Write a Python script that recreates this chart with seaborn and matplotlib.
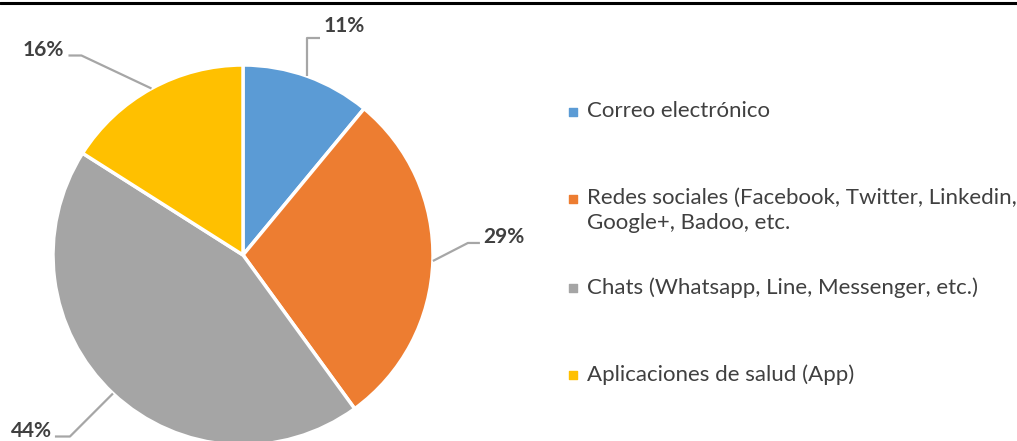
import matplotlib
matplotlib.use("Agg")
import matplotlib.pyplot as plt
from matplotlib.lines import Line2D
import numpy as np
import seaborn as sns

# Medio utilizado para comunicarse (porcentaje de respuestas)
categories = [
    "Correo electrónico",
    "Redes sociales (Facebook, Twitter, Linkedin,\nGoogle+, Badoo, etc.",
    "Chats (Whatsapp, Line, Messenger, etc.)",
    "Aplicaciones de salud (App)",
]
values = [11, 29, 44, 16]
value_labels = ["11%", "29%", "44%", "16%"]

sns.set_theme(style="white")
plt.rcParams["font.family"] = ["Lato", "DejaVu Sans"]
colors = sns.color_palette(["#5B9BD5", "#ED7D31", "#A5A5A5", "#FFC000"])
text_color = "#404040"

W, H = 1017, 441
fig = plt.figure(figsize=(W / 100, H / 100), dpi=100)
ax = fig.add_axes([0, 0, 1, 1])

center = (243, 186)
radius = 190
wedges, _ = ax.pie(
    values,
    colors=colors,
    startangle=90,
    counterclock=False,
    center=center,
    radius=radius,
    wedgeprops=dict(edgecolor="white", linewidth=2.5),
)
ax.set_xlim(0, W)
ax.set_ylim(0, H)
ax.set_aspect("equal")
ax.axis("off")

# leader line shape per label: (elbow dx, elbow dy, horizontal run, text dx, text dy)
leaders = [
    (0, 38, 13, 3, 12),
    (35, 18, 12, 3, 6),
    (-43, -43, -15, -3, 6),
    (-70, 33, -13, -5, 6),
]
for w, lab, (ex, ey, run, tx, ty) in zip(wedges, value_labels, leaders):
    mid = np.deg2rad((w.theta1 + w.theta2) / 2)
    x0 = center[0] + radius * np.cos(mid)
    y0 = center[1] + radius * np.sin(mid)
    x1, y1 = x0 + ex, y0 + ey
    x2 = x1 + run
    ax.plot([x0, x1, x2], [y0, y1, y1], color="#A6A6A6", lw=1.6,
            solid_capstyle="butt", zorder=3)
    ax.text(x2 + tx, y1 + ty, lab, ha="left" if run > 0 else "right",
            va="center", fontsize=15, fontweight="bold", color=text_color)

# legend entries: square marker aligned with the first text line
legend_x = 573
legend_y = [329, 242, 153, 66]
for cat, col, ly in zip(categories, colors, legend_y):
    ax.scatter([legend_x], [ly], marker="s", s=30, color=col, zorder=3)
    ax.text(legend_x + 14, ly + 11, cat, ha="left", va="top", fontsize=16,
            color=text_color, linespacing=1.33,
            transform=ax.transData)

# rule across the top
fig.add_artist(Line2D([0, 1], [1 - 3 / H, 1 - 3 / H], color="black", lw=2.2,
                      transform=fig.transFigure))

fig.savefig("out.png", dpi=100)
